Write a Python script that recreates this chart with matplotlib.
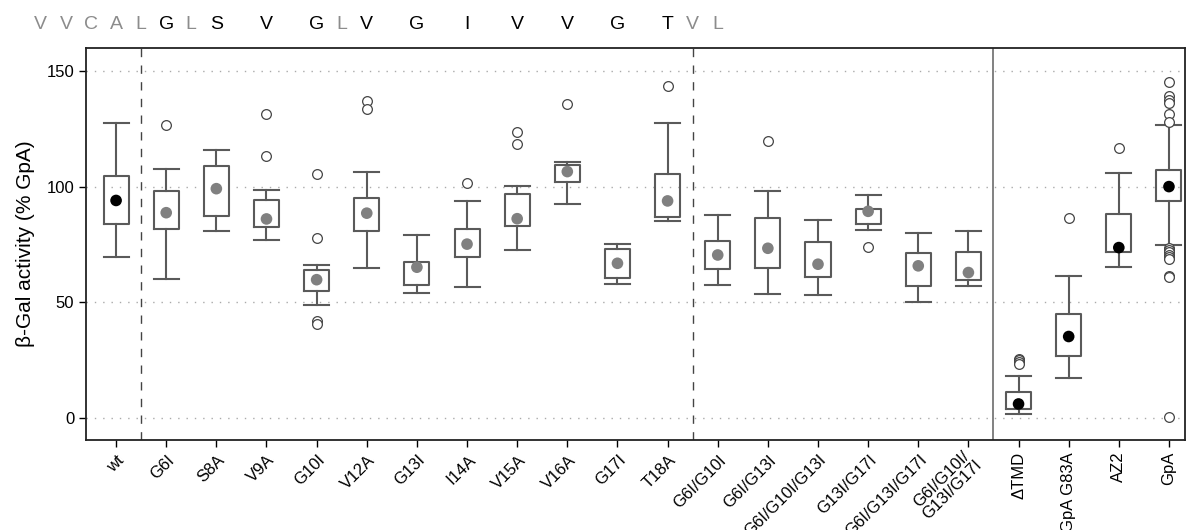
import numpy as np
import matplotlib
matplotlib.use('Agg')
import matplotlib.pyplot as plt
import matplotlib.transforms as mtransforms

plt.rcParams['font.family'] = ['Liberation Sans', 'DejaVu Sans']

# mutants / controls
names = ['wt', 'G6I', 'S8A', 'V9A', 'G10I', 'V12A', 'G13I', 'I14A', 'V15A',
         'V16A', 'G17I', 'T18A', 'G6I/G10I', 'G6I/G13I', 'G6I/G10I/G13I',
         'G13I/G17I', 'G6I/G13I/G17I', 'G6I/G10I/\nG13I/G17I',
         '\u0394TMD', 'GpA G83A', 'AZ2', 'GpA']

whislo = [69.6, 60.0, 80.8, 76.8, 48.9, 64.7, 54.1, 56.6, 72.6, 92.4, 57.7, 85.0,
          57.6, 53.7, 53.2, 81.3, 50.0, 56.9, 1.7, 17.2, 65.4, 74.8]
q1 = [83.7, 81.7, 87.4, 82.3, 55.0, 80.8, 57.4, 69.6, 83.1, 101.9, 60.3, 86.9,
      64.4, 64.8, 61.0, 84.0, 56.9, 59.7, 3.8, 26.7, 71.9, 93.8]
q3 = [104.5, 98.1, 109.1, 94.2, 63.9, 95.2, 67.4, 81.7, 97.0, 109.3, 72.9, 105.5,
      76.6, 86.6, 75.8, 90.5, 71.4, 71.7, 11.0, 44.9, 88.0, 107.2]
whishi = [127.4, 107.8, 115.9, 98.4, 66.1, 106.4, 79.1, 93.8, 100.4, 110.8, 75.3, 127.6,
          87.7, 98.0, 85.6, 96.4, 80.0, 80.7, 18.1, 61.2, 106.1, 126.7]
means = [94.0, 88.7, 99.1, 86.0, 59.7, 88.5, 65.1, 75.1, 86.1, 106.5, 66.8, 93.8,
         70.4, 73.3, 66.4, 89.3, 65.7, 62.8, 5.9, 35.1, 73.6, 100.0]
fliers = [[], [126.8], [], [131.6, 113.3], [105.5, 77.7, 41.8, 40.6],
          [137.1, 133.6], [], [101.5], [123.8, 118.6], [135.7], [], [143.6],
          [], [119.9], [], [73.9], [], [],
          [25.5, 24.8, 24.0, 23.2], [86.6], [116.5],
          [145.3, 139.3, 137.5, 136.0, 131.3, 128.0,
           73.5, 72.5, 71.5, 70.5, 69.5, 68.5, 61.5, 60.8, 0.2]]
control = [True] + [False] * 17 + [True] * 4

# TM sequence shown above the plot: (letter, slot, highlighted)
seq_letters = ['V', 'V', 'C', 'A', 'L', 'G', 'L', 'S', 'V', 'G', 'L', 'V',
               'G', 'I', 'V', 'V', 'G', 'T', 'V', 'L']
seq_slots = [-1.5, -1, -0.5, 0, 0.5, 1, 1.5, 2, 3, 4, 4.5, 5,
             6, 7, 8, 9, 10, 11, 11.5, 12]
seq_mut = [False, False, False, False, False, True, False, True, True, True, False, True,
           True, True, True, True, True, True, False, False]

line_c = '#5a5a5a'

fig = plt.figure(figsize=(11.87, 5.30), dpi=100)
ax = fig.add_axes([86 / 1187, 1 - 440 / 530, (1185 - 86) / 1187, (440 - 48) / 530])

stats = []
for i in range(len(names)):
    stats.append(dict(whislo=whislo[i], q1=q1[i], med=means[i], q3=q3[i],
                      whishi=whishi[i], fliers=fliers[i]))

pos = np.arange(len(names))
ax.bxp(stats, positions=pos, widths=0.5, capwidths=0.5, showmeans=False,
       boxprops=dict(color=line_c, linewidth=1.5),
       whiskerprops=dict(color=line_c, linewidth=1.5),
       capprops=dict(color=line_c, linewidth=1.5),
       medianprops=dict(linewidth=0),
       flierprops=dict(marker='o', markersize=7, markerfacecolor='white',
                       markeredgecolor='#444444', markeredgewidth=0.9),
       zorder=3)

dot_c = ['black' if c else '#808080' for c in control]
ax.scatter(pos, means, s=70, c=dot_c, zorder=4, linewidths=0)

for v in [0, 50, 100, 150]:
    ax.axhline(v, color='#aaaaaa', linestyle=(0, (1, 5)), linewidth=1, zorder=1)
ax.axvline(0.5, color='#444444', linestyle=(0, (6, 6)), linewidth=1, zorder=1)
ax.axvline(11.5, color='#444444', linestyle=(0, (6, 6)), linewidth=1, zorder=1)
ax.axvline(17.5, color='#777777', linewidth=1.3, zorder=1)

ax.set_xlim(-0.6, 21.32)
ax.set_ylim(-9.7, 160)
ax.set_yticks([0, 50, 100, 150])
ax.tick_params(axis='y', labelsize=12, length=5, width=1)
ax.tick_params(axis='x', length=5, width=1)
ax.set_ylabel('\u03b2-Gal activity (% GpA)', fontsize=15, labelpad=8)

ax.set_xticks(pos)
ax.set_xticklabels([])
trans_x = mtransforms.blended_transform_factory(ax.transData, ax.transAxes)
for i, nm in enumerate(names):
    if control[i] and i > 0:
        ax.text(i, -0.03, nm, transform=trans_x, rotation=90, ha='center',
                va='top', fontsize=12)
    else:
        ax.text(i + 0.12, -0.045, nm, transform=trans_x, rotation=45,
                ha='right', va='center', rotation_mode='anchor', fontsize=12,
                multialignment='center', linespacing=1.0)

for s in ax.spines.values():
    s.set_linewidth(1.3)
    s.set_color('#222222')

for letter, slot, mut in zip(seq_letters, seq_slots, seq_mut):
    ax.text(slot, 1.059, letter, transform=trans_x, ha='center', va='center',
            fontsize=14, color='black' if mut else '#8c8c8c', clip_on=False)

plt.savefig('out.png', dpi=100)
